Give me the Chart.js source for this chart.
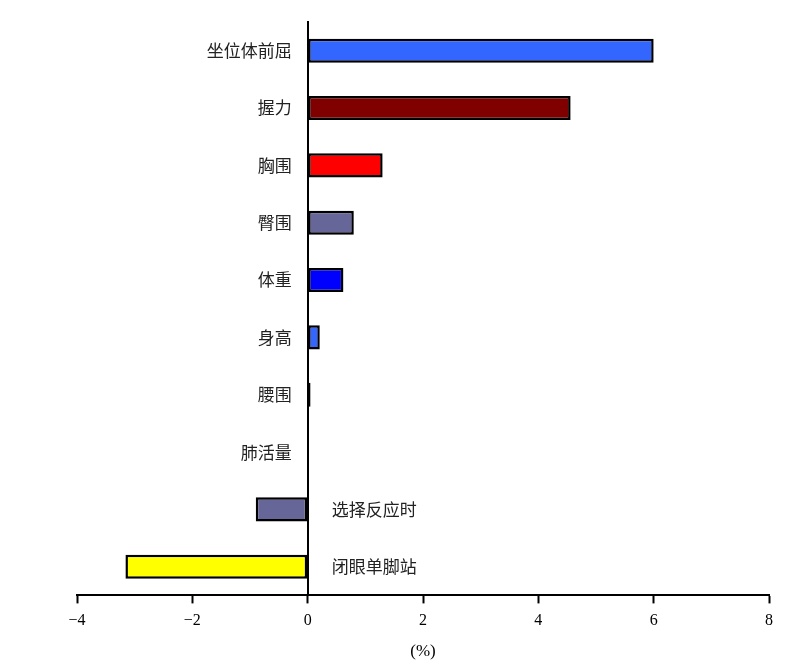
<!DOCTYPE html>
<html>
<head>
<meta charset="utf-8">
<script src="https://cdn.jsdelivr.net/npm/chart.js@4"></script>
<style>
  html, body { margin: 0; padding: 0; background: #fff; }
  #wrap { width: 807px; height: 665px; }
</style>
</head>
<body>
<div id="wrap"><canvas id="chart"></canvas></div>
<script>
const categories = ['坐位体前屈', '握力', '胸围', '臀围', '体重', '身高', '腰围', '肺活量', '选择反应时', '闭眼单脚站'];
const changes = [6.0, 4.56, 1.3, 0.8, 0.62, 0.21, 0.05, 0, -0.9, -3.16];
const barColors = ['#3366ff', '#800000', '#ff0000', '#666699', '#0000ff', '#3366ff', '#669966', '#3366ff', '#666699', '#ffff00'];
const xTicks = [-4, -2, 0, 2, 4, 6, 8];

// category names sit beside the zero line, on the side away from the bar
const sideLabels = {
	id: 'sideLabels',
	afterDatasetsDraw(chart) {
		const ctx = chart.ctx;
		const x = chart.scales.x;
		const y = chart.scales.y;
		const x0 = x.getPixelForValue(0);
		ctx.save();
		ctx.font = '17px "Noto Sans CJK SC"';
		ctx.fillStyle = '#222';
		ctx.textBaseline = 'middle';
		categories.forEach((name, i) => {
			const py = y.getPixelForValue(i);
			if (changes[i] < 0) {
				ctx.textAlign = 'left';
				ctx.fillText(name, x0 + 24, py);
			} else {
				ctx.textAlign = 'right';
				ctx.fillText(name, x0 - 16, py);
			}
		});
		ctx.restore();
	},
};

new Chart(document.getElementById('chart'), {
	type: 'bar',
	data: {
		labels: categories,
		datasets: [{
			data: changes,
			backgroundColor: barColors,
			borderColor: '#000',
			borderWidth: 2.5,
			borderSkipped: false,
			barPercentage: 0.42,
			categoryPercentage: 1,
		}],
	},
	options: {
		indexAxis: 'y',
		responsive: true,
		maintainAspectRatio: false,
		animation: false,
		layout: { padding: { left: 77, right: 38, top: 22, bottom: 3 } },
		plugins: { legend: { display: false }, tooltip: { enabled: false } },
		scales: {
			x: {
				min: -4,
				max: 8,
				afterBuildTicks: (axis) => { axis.ticks = xTicks.map((v) => ({ value: v })); },
				grid: { display: true, drawOnChartArea: false, drawTicks: true, tickLength: 8, tickWidth: 2, color: '#000' },
				border: { display: true, color: '#000', width: 2 },
				ticks: {
					color: '#000',
					font: { family: '"Liberation Serif", serif', size: 16 },
					padding: 8,
					maxRotation: 0,
					callback: (v) => String(v).replace('-', '\u2212'),
				},
				title: { display: true, text: '(%)', color: '#000', font: { family: '"Liberation Serif", serif', size: 17 }, padding: { top: 3, bottom: 0 } },
			},
			y: {
				position: { x: 0 },
				grid: { display: false },
				border: { display: true, color: '#000', width: 2 },
				ticks: { display: false },
			},
		},
	},
	plugins: [sideLabels],
});
</script>
</body>
</html>
